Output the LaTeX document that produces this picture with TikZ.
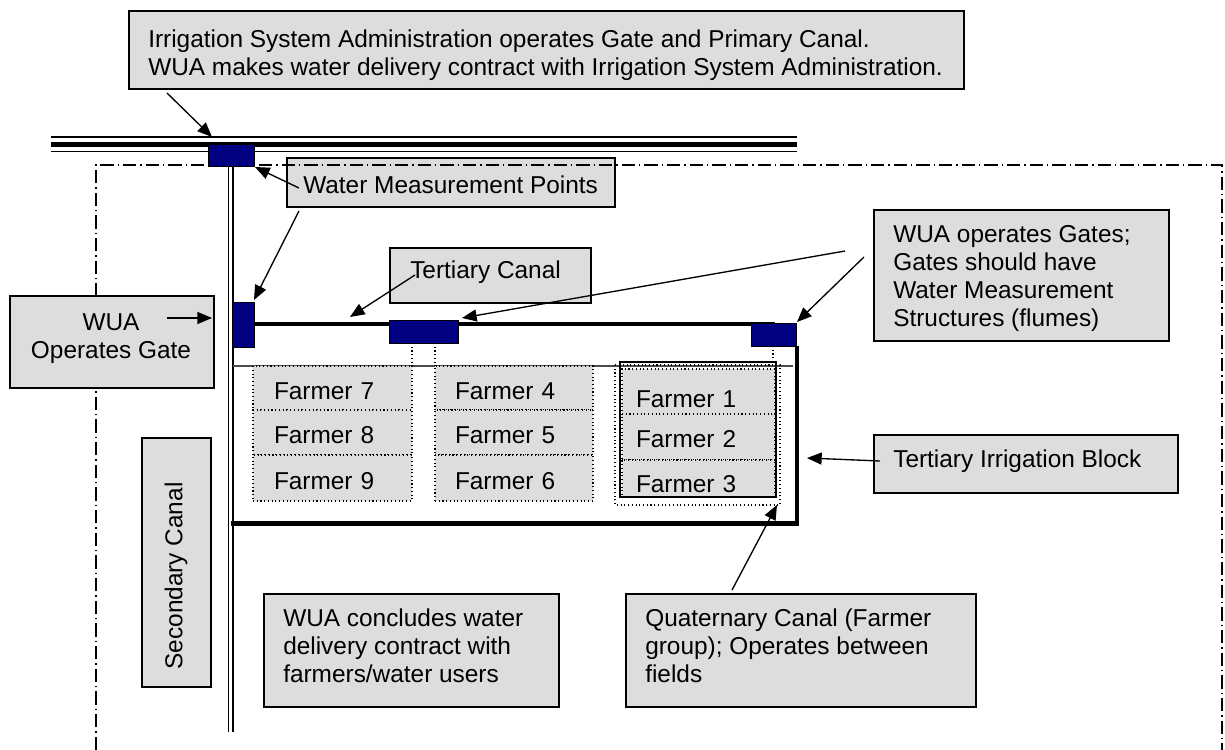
\documentclass[tikz,border=0pt]{standalone}
\usepackage{fontspec}
\setmainfont{Liberation Sans}
\usetikzlibrary{arrows.meta}
\definecolor{boxgray}{RGB}{221,221,221}
\definecolor{gatenavy}{RGB}{0,0,128}
\newcommand{\fs}{\fontsize{18.3pt}{21pt}\selectfont}
\begin{document}
\begin{tikzpicture}[x=0.75pt,y=-0.75pt,
  lbox/.style={draw=black, line width=1.3pt, fill=boxgray, anchor=north west, inner sep=0pt},
  ltext/.style={anchor=north west, inner sep=0pt, align=left, font=\fs},
  gate/.style={draw=black, line width=1pt, fill=gatenavy, anchor=north west, inner sep=0pt},
  farmer/.style={draw=black, dotted, line width=0.8pt, fill=boxgray, inner ysep=0pt, font=\fs, align=left, text depth=0pt},
  colA/.style={farmer, text width=87.75pt, inner xsep=15.75pt, text height=16.5pt},
  colB/.style={farmer, text width=88.5pt, inner xsep=15pt, text height=16.5pt},
  colC/.style={farmer, text width=93.75pt, inner xsep=10.5pt},
  arr/.style={line width=1pt, -{Triangle[length=11pt,width=9pt]}},
  dashdot/.style={line width=0.8pt, dash pattern=on 10pt off 3pt on 1pt off 3pt},
  thincanal/.style={line width=1.4pt},
  thickcanal/.style={line width=3.6pt}
]
\useasboundingbox (0,0) rectangle (1225,750);

% Water Measurement Points box (under the boundary line)
\node[lbox, minimum width=246pt, minimum height=36.75pt] (wm) at (286,157) {};
\node[ltext] (wmt) at (303,173.4) {\strut Water Measurement Points};

% boundary (dash-dot)
\draw[dashdot] (96,750) -- (96,165) -- (1222,165) -- (1222,750);

% primary canal
\draw[thincanal] (51,137) -- (797,137);
\draw[line width=3.75pt] (51,144.5) -- (797,144.5);
\draw[thincanal] (51,151.5) -- (797,151.5);

% secondary canal
\draw[line width=1pt] (228.5,166) -- (228.5,732);
\draw[line width=1pt] (233,166) -- (233,732);

% tertiary canal and block
\draw[thickcanal] (254,324) -- (775,324);
\draw[thickcanal] (797,346) -- (797,523.5) -- (231,523.5);
\draw[line width=0.9pt, black!70] (233,366) -- (793,366);
\draw[dotted, line width=0.8pt] (412,343) -- (412,366);
\draw[dotted, line width=0.8pt] (435,343) -- (435,366);
\draw[dotted, line width=0.8pt] (773,346) -- (773,362);

% farmers
\node[colA, minimum height=33pt] (f7) at (332.5,388) {Farmer 7};
\node[colA, minimum height=33.75pt] (f8) at (332.5,432.5) {Farmer 8};
\node[colA, minimum height=34.5pt] (f9) at (332.5,478) {Farmer 9};
\node[colB, minimum height=33pt] (f4) at (514,388) {Farmer 4};
\node[colB, minimum height=33.75pt] (f5) at (514,432.5) {Farmer 5};
\node[colB, minimum height=34.5pt] (f6) at (514,478) {Farmer 6};
\draw[dotted, line width=0.8pt] (615,365) rectangle (780,505);
\node[colC, minimum height=33.75pt, text height=23.25pt] (f1) at (698.5,391.5) {Farmer 1};
\node[colC, minimum height=34.5pt, text height=15pt] (f2) at (698.5,437) {Farmer 2};
\node[colC, minimum height=27.75pt, text height=20.25pt] (f3) at (698.5,478.5) {Farmer 3};
\draw[line width=1.5pt] (620,362) rectangle (776,497);

% gates
\node[gate, minimum width=34.5pt, minimum height=16.5pt] (g0) at (208,144) {};
\node[gate, minimum width=16.5pt, minimum height=33.75pt] (g1) at (232,302) {};
\node[gate, minimum width=51.75pt, minimum height=17.25pt] (g2) at (389,320) {};
\node[gate, minimum width=33.75pt, minimum height=17.25pt] (g3) at (751,323) {};

% label boxes
\node[lbox, minimum width=626.25pt, minimum height=58.5pt] (top) at (128,10) {};
\node[ltext] (topt) at (148,27.4) {\strut Irrigation System Administration operates Gate and Primary Canal.\\WUA makes water delivery contract with Irrigation System Administration.};

\node[lbox, minimum width=150.75pt, minimum height=41.25pt] (tc) at (389,247) {};
\node[ltext] (tct) at (410,258.4) {\strut Tertiary Canal};

\node[lbox, minimum width=221.25pt, minimum height=98.25pt] (gates) at (873,209) {};
\node[ltext] (gatest) at (893,222.4) {\strut WUA operates Gates;\\Gates should have\\Water Measurement\\Structures (flumes)};

\node[lbox, minimum width=153pt, minimum height=69pt] (wog) at (9,295) {};
\node[ltext, anchor=north, align=center] (wogt) at (111,310.4) {\strut WUA\\Operates Gate};

\node[lbox, minimum width=51.75pt, minimum height=186.75pt] (sec) at (141,437) {};
\node[font=\fs, rotate=90, inner sep=0pt] (sect) at (176,576) {Secondary Canal};

\node[lbox, minimum width=228pt, minimum height=43.5pt] (block) at (873,434) {};
\node[ltext] (blockt) at (893,447.4) {\strut Tertiary Irrigation Block};

\node[lbox, minimum width=221.25pt, minimum height=84.75pt] (conc) at (263,593) {};
\node[ltext] (conct) at (283,606.4) {\strut WUA concludes water\\delivery contract with\\farmers/water users};

\node[lbox, minimum width=262.5pt, minimum height=84.75pt] (quat) at (625,593) {};
\node[ltext] (quatt) at (645,606.4) {\strut Quaternary Canal (Farmer\\group); Operates between\\fields};

% arrow end points
\coordinate (topS) at (167,93);     \coordinate (primT) at (212,137);
\coordinate (wmS1) at (299,188);    \coordinate (g0T) at (255,167);
\coordinate (wmS2) at (299,211);    \coordinate (g1T) at (254,300);
\coordinate (tcS) at (415,275);     \coordinate (tcT) at (350,317);
\coordinate (gatesS1) at (845,251); \coordinate (g2T) at (462,318);
\coordinate (gatesS2) at (864,257); \coordinate (g3T) at (797,322);
\coordinate (wogS) at (167,318);    \coordinate (wogT) at (212,318);
\coordinate (blockS) at (880,461);  \coordinate (blockT) at (807,458);
\coordinate (quatS) at (732,590);   \coordinate (quatT) at (777,505);

\draw[arr] (topS) -- (primT);
\draw[arr] (wmS1) -- (g0T);
\draw[arr] (wmS2) -- (g1T);
\draw[arr] (tcS) -- (tcT);
\draw[arr] (gatesS1) -- (g2T);
\draw[arr] (gatesS2) -- (g3T);
\draw[arr] (wogS) -- (wogT);
\draw[arr] (blockS) -- (blockT);
\draw[arr] (quatS) -- (quatT);
\end{tikzpicture}
\end{document}
